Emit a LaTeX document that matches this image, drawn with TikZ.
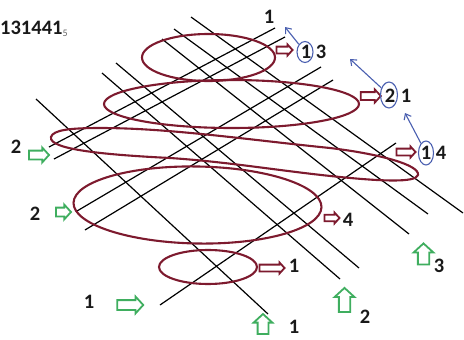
\documentclass[tikz,border=0pt]{standalone}
\usepackage{fontspec}
\setmainfont{Carlito}
\usetikzlibrary{shapes.geometric,shapes.arrows,arrows.meta}
\definecolor{wine}{HTML}{7D1A2E}
\definecolor{leaf}{HTML}{3FAE5F}
\definecolor{inkblue}{HTML}{4A5FB0}
\tikzset{
  x=1pt,y=-1pt,
  gridline/.style={black,line width=1.2pt},
  loopline/.style={wine,line width=2.1pt},
  loopnode/.style={ellipse,draw=wine,line width=2.1pt,inner sep=0pt},
  digit/.style={font=\fontsize{20.5}{20.5}\selectfont\bfseries,text=black!90,inner sep=0pt},
  ringnode/.style={ellipse,draw=inkblue,line width=1.1pt,inner sep=0pt},
  pointer/.style={inkblue,line width=1.1pt,-{Straight Barb[length=5pt,width=8pt]}},
  blockr/.style 2 args={single arrow,draw=wine,line width=1.8pt,fill=white,inner xsep=0pt,inner ysep=0.25*#2,
    minimum height=#1,minimum width=#2,single arrow head extend=0.22*#2,single arrow tip angle=95},
  blockg/.style 2 args={single arrow,draw=leaf,line width=1.8pt,fill=white,inner xsep=0pt,inner ysep=0.25*#2,
    minimum height=#1,minimum width=#2,single arrow head extend=0.22*#2,single arrow tip angle=95}
}
\begin{document}
\begin{tikzpicture}
\useasboundingbox (0,0) rectangle (464,340);
% grid ends
\coordinate (a1) at (36,99);   \coordinate (a1e) at (268,314);
\coordinate (a2) at (102,73);  \coordinate (a2e) at (340,279);
\coordinate (a3) at (116,63);  \coordinate (a3e) at (359,268);
\coordinate (a4) at (162,39);  \coordinate (a4e) at (409,234);
\coordinate (a5) at (174,29);  \coordinate (a5e) at (428,214);
\coordinate (a6) at (191,17);  \coordinate (a6e) at (463,213);
\coordinate (b1) at (160,305); \coordinate (b1e) at (396,143);
\coordinate (b2) at (77,211);  \coordinate (b2e) at (321,67);
\coordinate (b3) at (85,230);  \coordinate (b3e) at (333,80);
\coordinate (b4) at (49,147);  \coordinate (b4e) at (275,28);
\coordinate (b5) at (54,159);  \coordinate (b5e) at (285,37);
\foreach \n in {a1,a2,a3,a4,a5,a6,b1,b2,b3,b4,b5}
  \draw[gridline] (\n) -- (\n e);
% loops
\node[loopnode,minimum width=133pt,minimum height=47pt] (l1) at (208.5,57.5) {};
\node[loopnode,minimum width=255pt,minimum height=48pt] (l2) at (231.5,104) {};
\node[loopnode,minimum width=248pt,minimum height=77pt,rotate=-1] (l4) at (197.5,205) {};
\node[loopnode,minimum width=98pt,minimum height=34pt] (l5) at (208,267) {};
\draw[loopline] (51,137) .. controls (53,130) and (70,128) .. (100,128)
  .. controls (170,128) and (250,140) .. (330,148)
  .. controls (380,154) and (420,165) .. (418,175)
  .. controls (416,183) and (380,181) .. (340,177)
  .. controls (280,171) and (230,162) .. (170,158)
  .. controls (110,155) and (48,150) .. (51,137) -- cycle;
% red block arrows
\node[blockr={16pt}{10pt}] (r1) at (283,50) {};
\node[blockr={20pt}{12pt}] (r2) at (369,96) {};
\node[blockr={19pt}{10pt}] (r3) at (404.5,152) {};
\node[blockr={15pt}{9.5pt}] (r4) at (330.5,218) {};
\node[blockr={25pt}{10pt}] (r5) at (270.5,268) {};
% green block arrows
\node[blockg={20pt}{14pt}] (g1) at (37,155) {};
\node[blockg={15pt}{14pt}] (g2) at (61.5,212) {};
\node[blockg={26pt}{16pt}] (g3) at (128,305) {};
\node[blockg={20pt}{18pt},rotate=90] (g4) at (263,326.5) {};
\node[blockg={24pt}{19pt},rotate=90] (g5) at (344.5,302.5) {};
\node[blockg={21pt}{19pt},rotate=90] (g6) at (423.5,256.5) {};
% labels
\node[digit,anchor=west] (title) at (0,28.5) {131441\raisebox{-2pt}{\textcolor{black!60}{\fontsize{10}{10}\selectfont\mdseries 5}}};
\node[digit] (t1) at (269,17) {1};
\node[digit] (c1) at (306,52) {1};
\node[digit] (d1) at (321,52) {3};
\node[digit] (c2) at (390,96) {2};
\node[digit] (d2) at (406,96) {1};
\node[digit] (c3) at (426,153) {1};
\node[digit] (d3) at (441,153) {4};
\node[digit] (e1) at (16,147) {2};
\node[digit] (e2) at (35,214) {2};
\node[digit] (e3) at (89,302) {1};
\node[digit] (e4) at (348,220) {4};
\node[digit] (e5) at (294,266) {1};
\node[digit] (e6) at (294,327) {1};
\node[digit] (e7) at (365,317) {2};
\node[digit] (e8) at (439,266) {3};
% rings and blue pointers
\node[ringnode,minimum width=16pt,minimum height=21pt] (n1) at (305,52) {};
\node[ringnode,minimum width=17pt,minimum height=26pt] (n2) at (389,95) {};
\node[ringnode,minimum width=15pt,minimum height=24pt] (n3) at (426,153) {};
\coordinate (p1) at (285,27);
\coordinate (p2) at (350,59);
\coordinate (p3) at (405,113);
\draw[pointer] (n1) -- (p1);
\draw[pointer] (n2) -- (p2);
\draw[pointer] (n3) -- (p3);
\end{tikzpicture}
\end{document}
